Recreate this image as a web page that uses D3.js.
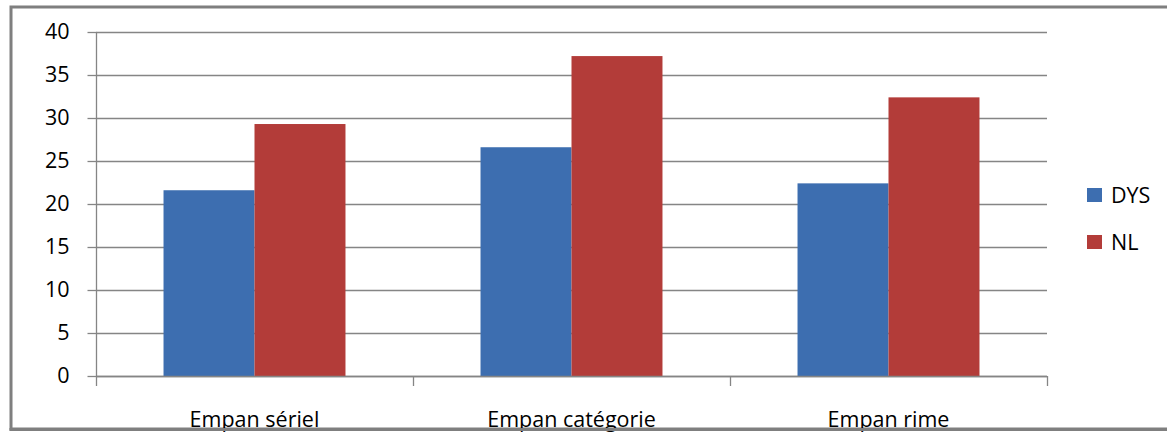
<!DOCTYPE html>
<html>
<head>
<meta charset="utf-8">
<script src="https://cdn.jsdelivr.net/npm/d3@7"></script>
<style>
  html, body { margin: 0; padding: 0; background: #fff; }
  svg { display: block; }
  text { font-family: "Open Sans", "Liberation Sans", sans-serif; fill: #000; }
</style>
</head>
<body>
<svg id="chart" width="1167" height="432"></svg>
<script>
const categories = ["Empan sériel", "Empan catégorie", "Empan rime"];
const seriesNames = ["DYS", "NL"];
const dysValues = [21.6, 26.6, 22.4];
const nlValues = [29.3, 37.2, 32.4];
const yTicks = [0, 5, 10, 15, 20, 25, 30, 35, 40];
const colors = ["#3d6eb0", "#b33c39"];

const svg = d3.select("#chart");
const W = 1167, H = 432;
const plot = { left: 96, right: 1047, top: 32, bottom: 376 };

// frame
svg.append("rect").attr("x", 11).attr("y", 7).attr("width", W + 10).attr("height", 422)
  .attr("fill", "none").attr("stroke", "#7f7f7f").attr("stroke-width", 3);

const x0 = d3.scaleBand().domain(categories).range([plot.left, plot.right])
  .paddingInner(0.426).paddingOuter(0.213);
const x1 = d3.scaleBand().domain(seriesNames).range([0, x0.bandwidth()]);
const y = d3.scaleLinear().domain([0, 40]).range([plot.bottom, plot.top]);

// gridlines
svg.append("g").selectAll("line").data(yTicks).join("line")
  .attr("x1", plot.left).attr("x2", plot.right)
  .attr("y1", d => Math.round(y(d)) + 0.5).attr("y2", d => Math.round(y(d)) + 0.5)
  .attr("stroke", "#858585").attr("stroke-width", 1.3);

// bars
const data = categories.map((c, i) => ({ cat: c, vals: [dysValues[i], nlValues[i]] }));
const groups = svg.append("g").selectAll("g").data(data).join("g")
  .attr("transform", d => `translate(${x0(d.cat)},0)`);
groups.selectAll("rect").data(d => d.vals.map((v, j) => ({ s: seriesNames[j], v, j })))
  .join("rect")
  .attr("x", d => x1(d.s)).attr("width", x1.bandwidth())
  .attr("y", d => y(d.v)).attr("height", d => y(0) - y(d.v))
  .attr("fill", d => colors[d.j]);

// y axis
const yAxis = d3.axisLeft(y).tickValues(yTicks).tickSize(9).tickPadding(18).tickFormat(d3.format("d"));
const gy = svg.append("g").attr("transform", `translate(${plot.left + 0.5},0)`).call(yAxis);
gy.select(".domain").attr("stroke", "#858585").attr("stroke-width", 1.3).attr("d", `M0,${plot.top}V${plot.bottom}`);
gy.selectAll(".tick line").attr("stroke", "#858585").attr("stroke-width", 1.3);
gy.selectAll(".tick text").attr("font-size", 21.5).attr("font-family", "'Open Sans', sans-serif").attr("fill", "#000");

// x axis (category separators)
const sepX = [0, 1, 2, 3].map(i => plot.left + i * x0.step());
svg.append("line").attr("x1", plot.left).attr("x2", plot.right)
  .attr("y1", plot.bottom + 0.5).attr("y2", plot.bottom + 0.5)
  .attr("stroke", "#858585").attr("stroke-width", 1.3);
svg.append("g").selectAll("line").data(sepX).join("line")
  .attr("x1", d => Math.round(d) + 0.5).attr("x2", d => Math.round(d) + 0.5)
  .attr("y1", plot.bottom).attr("y2", plot.bottom + 10)
  .attr("stroke", "#858585").attr("stroke-width", 1.3);
svg.append("g").selectAll("text").data(categories).join("text")
  .attr("x", d => x0(d) + x0.bandwidth() / 2)
  .attr("y", 427)
  .attr("text-anchor", "middle")
  .attr("font-size", 21.5)
  .text(d => d);

// redraw bottom frame over labels
svg.append("line").attr("x1", 9.5).attr("x2", W).attr("y1", 429.5).attr("y2", 429.5)
  .attr("stroke", "#7f7f7f").attr("stroke-width", 3);

// legend
const legend = svg.append("g").selectAll("g").data(seriesNames).join("g")
  .attr("transform", (d, i) => `translate(1087,${188 + i * 47})`);
legend.append("rect").attr("width", 15).attr("height", 14).attr("fill", (d, i) => colors[i]);
legend.append("text").attr("x", 24).attr("y", 15).attr("font-size", 21.5).text(d => d);
</script>
</body>
</html>
